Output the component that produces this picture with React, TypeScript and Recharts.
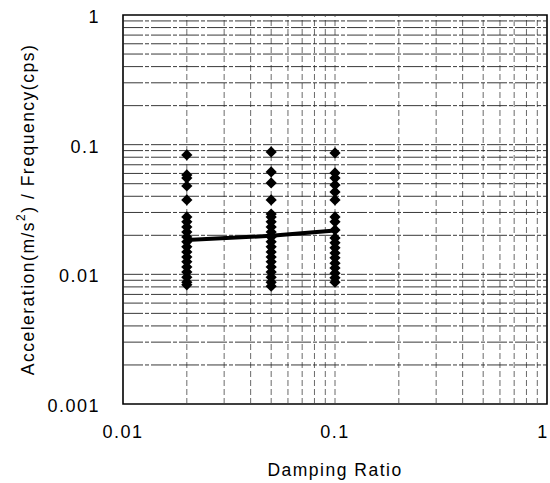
import React from 'react';
import { ScatterChart, Scatter, XAxis, YAxis, ReferenceLine, ReferenceArea } from 'recharts';

// Damping ratios on the x axis
const dampingRatios = [0.02, 0.05, 0.1];

// Acceleration / frequency values
const valuesAt002 = [
  0.0833, 0.0584, 0.0553, 0.048, 0.0375, 0.0277, 0.0254, 0.0232, 0.0212, 0.0194,
  0.0178, 0.0163, 0.0149, 0.0136, 0.0125, 0.0114, 0.0104, 0.0095, 0.0087, 0.0083,
];
const valuesAt005 = [
  0.0879, 0.0616, 0.0507, 0.0375, 0.0292, 0.0277, 0.0254, 0.0232, 0.0212, 0.0194,
  0.0178, 0.0163, 0.0149, 0.0136, 0.0125, 0.0114, 0.0104, 0.0095, 0.0087, 0.0081,
];
const valuesAt01 = [
  0.0863, 0.0605, 0.0553, 0.0489, 0.0432, 0.0375, 0.0277, 0.0254, 0.022, 0.0191,
  0.0175, 0.016, 0.0146, 0.0134, 0.0122, 0.0112, 0.0102, 0.0094, 0.0087,
];

// mean trend line
const meanValues = [0.0184, 0.0198, 0.0218];

const xTicks = [0.01, 0.1, 1];
const yTicks = [0.001, 0.01, 0.1, 1];
const xGrid = [0.02, 0.03, 0.04, 0.05, 0.06, 0.07, 0.08, 0.09, 0.1, 0.2, 0.3, 0.4, 0.5, 0.6, 0.7, 0.8, 0.9];
const yGrid = [
  0.002, 0.003, 0.004, 0.005, 0.006, 0.007, 0.008, 0.009, 0.01,
  0.02, 0.03, 0.04, 0.05, 0.06, 0.07, 0.08, 0.09, 0.1,
  0.2, 0.3, 0.4, 0.5, 0.6, 0.7, 0.8, 0.9,
];

const columns = [valuesAt002, valuesAt005, valuesAt01];
const points = columns.flatMap((vals, i) => vals.map((v) => ({ x: dampingRatios[i], y: v })));
const meanLine = dampingRatios.map((x, i) => ({ x, y: meanValues[i] }));

const FONT = '"Liberation Sans", Arial, Helvetica, sans-serif';

const Diamond = (props: any) => {
  const { cx, cy } = props;
  const r = 5.6;
  return <polygon points={`${cx},${cy - r} ${cx + r},${cy} ${cx},${cy + r} ${cx - r},${cy}`} fill="#000" />;
};

const XTick = (props: any) => {
  // keep the last label ("1") inside the picture
  const x = Math.min(props.x, 543);
  return (
    <text
      x={x}
      y={props.y + 13}
      textAnchor="middle"
      dominantBaseline="hanging"
      fontFamily={FONT}
      fontSize={18}
      letterSpacing={1.5}
      fill="#000"
    >
      {props.payload.value}
    </text>
  );
};

const YTick = (props: any) => (
  <text
    x={props.x - 15}
    y={props.y + 2}
    textAnchor="end"
    dominantBaseline="central"
    fontFamily={FONT}
    fontSize={18}
    letterSpacing={1.5}
    fill="#000"
  >
    {props.payload.value}
  </text>
);

const YLabel = (props: any) => {
  const vb = props.viewBox || { y: 15, height: 389 };
  const cy = vb.y + vb.height / 2;
  return (
    <text
      x={28}
      y={cy}
      transform={`rotate(-90, 28, ${cy})`}
      textAnchor="middle"
      dominantBaseline="central"
      fontFamily={FONT}
      fontSize={17.5}
      letterSpacing={1.5}
      fill="#000"
    >
      Acceleration(m/s<tspan dy={-7} fontSize={12}>2</tspan>
      <tspan dy={7}>) / Frequency(cps)</tspan>
    </text>
  );
};

const XLabel = (props: any) => {
  const vb = props.viewBox || { x: 123, width: 424 };
  return (
    <text
      x={vb.x + vb.width / 2}
      y={470}
      textAnchor="middle"
      dominantBaseline="central"
      fontFamily={FONT}
      fontSize={17.5}
      letterSpacing={1.5}
      fill="#000"
    >
      Damping Ratio
    </text>
  );
};

const App: React.FC = () => {
  return (
    <div style={{ position: 'absolute', left: 0, top: 0, background: '#fff' }}>
      <ScatterChart width={550} height={483} margin={{ top: 15, right: 3, left: 0, bottom: 9 }}>
        <XAxis
          type="number"
          dataKey="x"
          scale="log"
          domain={[0.01, 1]}
          ticks={xTicks}
          allowDataOverflow
          axisLine={false}
          tickLine={false}
          height={70}
          tick={<XTick />}
          label={<XLabel />}
        />
        <YAxis
          type="number"
          dataKey="y"
          scale="log"
          domain={[0.001, 1]}
          ticks={yTicks}
          allowDataOverflow
          axisLine={false}
          tickLine={false}
          width={123}
          tick={<YTick />}
          label={<YLabel />}
        />
        {xGrid.map((v) => (
          <ReferenceLine key={`vx${v}`} x={v} stroke="#444" strokeWidth={0.8} strokeDasharray="6 3" />
        ))}
        {yGrid.map((v) => (
          <ReferenceLine key={`hy${v}`} y={v} stroke="#222" strokeWidth={0.9} strokeDasharray="20 2 4 2" />
        ))}
        <ReferenceArea
          x1={0.01}
          x2={1}
          y1={0.001}
          y2={1}
          fill="none"
          fillOpacity={0}
          stroke="#000"
          strokeWidth={1.6}
          ifOverflow="visible"
        />
        <Scatter data={points} shape={<Diamond />} isAnimationActive={false} />
        <Scatter
          data={meanLine}
          line={{ stroke: '#000', strokeWidth: 4 }}
          shape={() => null}
          isAnimationActive={false}
        />
      </ScatterChart>
    </div>
  );
};

export default App;
